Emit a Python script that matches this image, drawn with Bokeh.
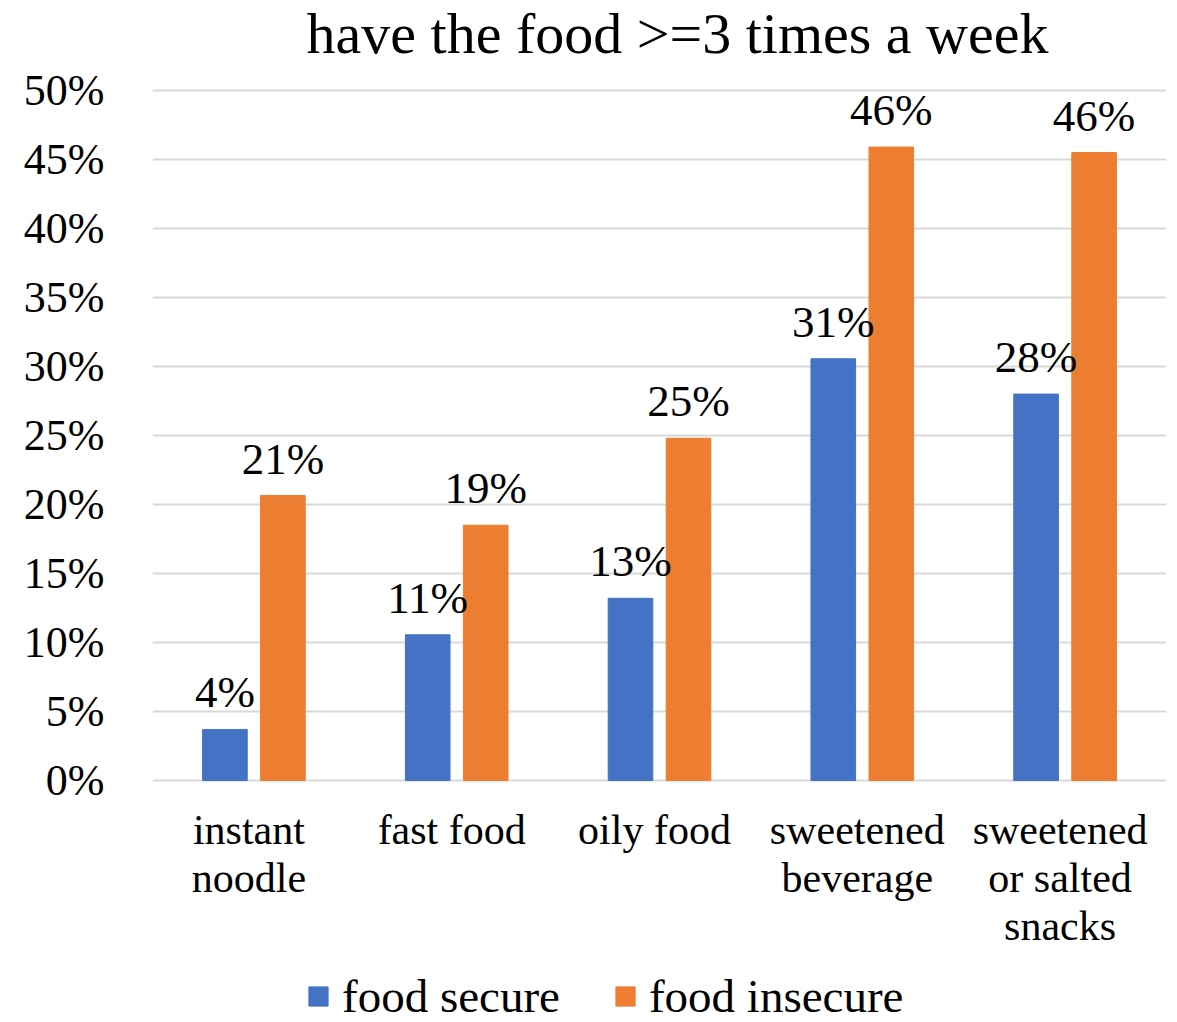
from bokeh.plotting import figure
from bokeh.models import (ColumnDataSource, FactorRange, Range1d, FixedTicker, LabelSet,
                          Label, Legend, LegendItem)
from bokeh.transform import dodge
from bokeh.embed import file_html
from bokeh.resources import INLINE

categories = ["instant noodle", "fast food", "oily food", "sweetened beverage",
              "sweetened or salted snacks"]
category_labels = ["instant\nnoodle", "fast food", "oily food", "sweetened\nbeverage",
                   "sweetened\nor salted\nsnacks"]
food_secure = [3.7, 10.56, 13.2, 30.56, 28.0]
food_insecure = [20.65, 18.5, 24.8, 45.9, 45.5]
series_names = ["food secure", "food insecure"]
y_ticks = [0, 5, 10, 15, 20, 25, 30, 35, 40, 45, 50]
title_text = "have the food >=3 times a week"

BLUE = "#4472C4"
ORANGE = "#ED7D31"
GRID = "#D9D9D9"
FONT = "Liberation Serif"

W, H = 1177, 1022
ZERO_PX = 780          # pixel row of the 0% line
PX_PER_UNIT = 13.8     # pixels per percentage point


def pct(v):
    return f"{int(v + 0.5)}%"


label_rows = [l.split("\n") for l in category_labels]
n_rows = max(len(r) for r in label_rows)
row_text = [[r[i] if i < len(r) else "" for r in label_rows] for i in range(n_rows)]

src = ColumnDataSource(dict(
    cat=categories,
    secure=food_secure,
    insecure=food_insecure,
    secure_lbl=[pct(v) for v in food_secure],
    insecure_lbl=[pct(v) for v in food_insecure],
    **{f"row{i}": row_text[i] for i in range(n_rows)},
))

xr = FactorRange(*categories, range_padding=0)
yr = Range1d(-(H - ZERO_PX) / PX_PER_UNIT, ZERO_PX / PX_PER_UNIT)
p = figure(width=W, height=H, x_range=xr, y_range=yr, x_axis_location=None,
           output_backend="svg", toolbar_location=None,
           min_border_left=152, min_border_right=11, min_border_top=0,
           min_border_bottom=0)
p.outline_line_color = None
p.background_fill_color = "white"
p.border_fill_color = "white"

off = 0.143
bw = 0.22
r1 = p.vbar(x=dodge("cat", -off, range=xr), top="secure", width=bw, bottom=0,
            source=src, fill_color=BLUE, line_color=BLUE)
r2 = p.vbar(x=dodge("cat", off, range=xr), top="insecure", width=bw, bottom=0,
            source=src, fill_color=ORANGE, line_color=ORANGE)

# value labels
for col, lbl, o in [("secure", "secure_lbl", -off), ("insecure", "insecure_lbl", off)]:
    p.add_layout(LabelSet(x=dodge("cat", o, range=xr), y=col, text=lbl, source=src,
                          text_align="center", text_baseline="alphabetic", y_offset=22,
                          text_font=FONT, text_font_size="45px", text_color="black"))

# y axis
p.yaxis.ticker = FixedTicker(ticks=y_ticks)
p.yaxis.major_label_overrides = {t: f"{t}%" for t in y_ticks}
p.yaxis.axis_line_color = None
p.yaxis.major_tick_line_color = None
p.yaxis.minor_tick_line_color = None
p.yaxis.major_tick_out = 0
p.yaxis.minor_tick_out = 0
p.yaxis.major_label_text_font = FONT
p.yaxis.major_label_text_font_size = "44px"
p.yaxis.major_label_text_color = "black"
p.yaxis.major_label_standoff = 48

p.xgrid.grid_line_color = None
p.ygrid.grid_line_color = GRID
p.ygrid.grid_line_width = 2

# category labels (below the 0% line), one row per text line
for i in range(n_rows):
    p.add_layout(LabelSet(x="cat", y=0, text=f"row{i}", source=src,
                          text_align="center", text_baseline="alphabetic",
                          x_offset=-5, y_offset=-(63 + 48 * i), text_font=FONT,
                          text_font_size="42px", text_color="black"))

# title
p.add_layout(Label(x=len(categories) / 2, y=y_ticks[-1], x_offset=18,
                   y_offset=(ZERO_PX - y_ticks[-1] * PX_PER_UNIT) - 48 + 15,
                   text=title_text, text_align="center", text_baseline="alphabetic",
                   text_font=FONT, text_font_size="58px", text_color="black"))

# legend
legend = Legend(items=[LegendItem(label=series_names[0], renderers=[r1]),
                       LegendItem(label=series_names[1], renderers=[r2])],
                orientation="horizontal", location=(306 - 152, -1),
                label_text_font=FONT, label_text_font_size="47px",
                label_text_color="black",
                glyph_width=24, glyph_height=24, label_height=24,
                label_standoff=12, spacing=53,
                padding=0, margin=0, border_line_color=None,
                background_fill_alpha=0)
p.add_layout(legend, "center")

open("out.html", "w").write(file_html(p, INLINE))
